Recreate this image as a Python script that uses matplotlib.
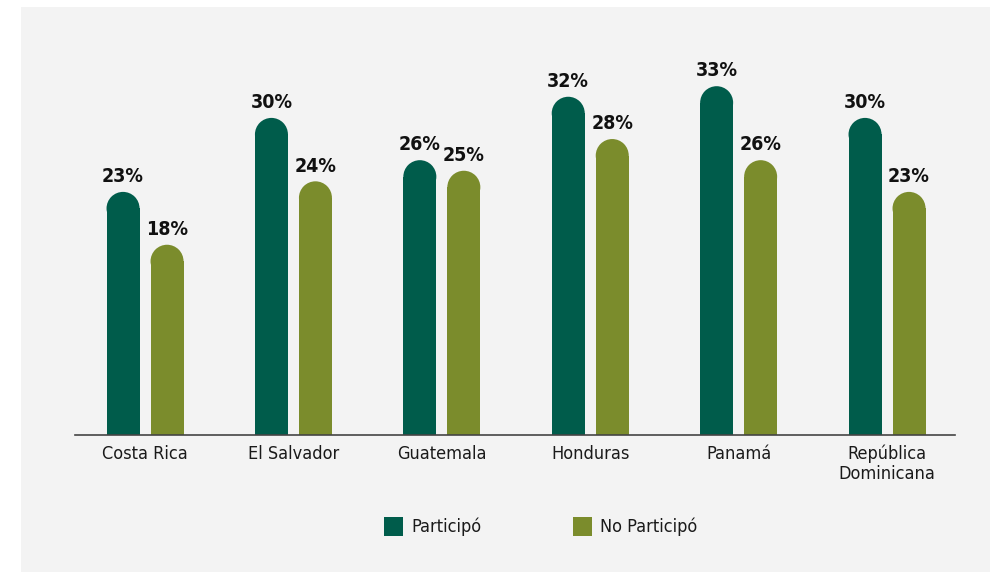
import matplotlib
matplotlib.use("Agg")
import matplotlib.pyplot as plt
from matplotlib.patches import Rectangle, Ellipse
import numpy as np

plt.rcParams['font.family'] = ['DejaVu Sans']
plt.rcParams['font.stretch'] = 'condensed'

# datos
paises = ["Costa Rica", "El Salvador", "Guatemala", "Honduras", "Panamá",
          "República\nDominicana"]
participo = [23, 30, 26, 32, 33, 30]
no_participo = [18, 24, 25, 28, 26, 23]
series = ["Participó", "No Participó"]

verde = "#005c4b"
oliva = "#7b8c2c"
fondo = "#f3f3f3"

W, H = 990, 572
fig = plt.figure(figsize=(W / 100, H / 100), dpi=100)
fig.patches.append(Rectangle((21 / W, 0), 1, (H - 7) / H, transform=fig.transFigure,
                             facecolor=fondo, edgecolor="none", zorder=-5))

# ejes en pixeles: base en y=435, 10.57 px por punto porcentual
ax_l, ax_r = 75, 955
ax_base, ax_top = 435, 12
ax = fig.add_axes([ax_l / W, (H - ax_base) / H, (ax_r - ax_l) / W, (ax_base - ax_top) / H])
ax.set_facecolor("none")
ylim = (ax_base - ax_top) / 10.57
xlim = (-0.472, 5.458)
ax.set_xlim(*xlim)
ax.set_ylim(0, ylim)

px_x = (ax_r - ax_l) / (xlim[1] - xlim[0])
px_y = (ax_base - ax_top) / ylim

ancho = 33 / px_x
desp = 22 / px_x
r_y = (33 / 2) / px_y


def barra(x, v, color):
    # barra con tope redondeado
    ax.add_patch(Rectangle((x - ancho / 2, 0), ancho, v - r_y, facecolor=color,
                           edgecolor="none"))
    ax.add_patch(Ellipse((x, v - r_y), ancho, 2 * r_y, facecolor=color,
                         edgecolor="none"))
    ax.text(x, v + 0.55, f"{v}%", ha="center", va="bottom", fontsize=14,
            fontweight="bold", color="#111111")


x = np.arange(len(paises))
for i in x:
    barra(i - desp, participo[i], verde)
    barra(i + desp, no_participo[i], oliva)

for s in ["top", "right", "left"]:
    ax.spines[s].set_visible(False)
ax.spines["bottom"].set_color("#444444")
ax.spines["bottom"].set_linewidth(1.2)
ax.set_yticks([])
ax.set_xticks(x)
ax.set_xticklabels(paises, fontsize=13, color="#1a1a1a", linespacing=1.1)
ax.tick_params(axis="x", length=0, pad=7)

# leyenda
for col, nombre, xs in [(verde, series[0], 384), (oliva, series[1], 573)]:
    fig.patches.append(Rectangle((xs / W, (H - 536) / H), 19 / W, 19 / H,
                                 transform=fig.transFigure, facecolor=col,
                                 edgecolor="none"))
    fig.text((xs + 27) / W, (H - 527) / H, nombre, ha="left", va="center",
             fontsize=13, color="#1a1a1a")

fig.savefig("out.png", dpi=100)
